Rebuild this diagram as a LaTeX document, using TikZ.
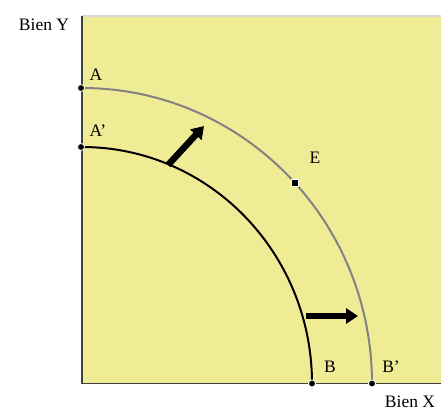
\documentclass[tikz,border=0pt]{standalone}
\usepackage{fontspec}
\setmainfont{Liberation Serif}
\usetikzlibrary{arrows.meta}
\definecolor{bg}{RGB}{240,236,150}
\definecolor{curvegrey}{RGB}{130,130,130}
\begin{document}
\begin{tikzpicture}[x=1pt,y=-1pt,
  lbl/.style={font=\fontsize{17.5}{19}\selectfont,inner sep=0pt},
  enddot/.style={circle,fill=black,draw=white,line width=0.8pt,inner sep=0pt,minimum size=7pt},
  sqdot/.style={rectangle,fill=black,draw=white,line width=0.8pt,inner sep=0pt,minimum size=6.5pt},
  bigarrow/.style={line width=6.5pt,-{Triangle[length=12pt,width=15pt]}}]
\useasboundingbox (0,0) rectangle (441,410);
\fill[bg] (82,16) rectangle (441,383.5);
\draw[line width=1.2pt,black!15] (82,16) -- (441,16);
\draw[line width=1.5pt,black!75] (82,16) -- (82,383.5) -- (441,383.5);
% curves: quarter ellipses centred at (82,383.5)
\draw[curvegrey,line width=2pt] (82,88) arc[start angle=-90,end angle=0,x radius=290,y radius=295.5];
\draw[black,line width=2pt] (82,147) arc[start angle=-90,end angle=0,x radius=230,y radius=236.5];
\node[enddot] (A) at (81,88) {};
\node[enddot] (Ap) at (81,147) {};
\node[enddot] (B) at (312,383.5) {};
\node[enddot] (Bp) at (372,383.5) {};
\node[sqdot] (E) at (295,183) {};
% arrows
\coordinate (u1) at (168,165);
\coordinate (u2) at (204,126);
\draw[bigarrow] (u1) -- (u2);
\coordinate (r1) at (306,316);
\coordinate (r2) at (358,316);
\draw[bigarrow] (r1) -- (r2);
% labels
\node[lbl,anchor=base] (ly) at (44,30) {Bien Y};
\node[lbl,anchor=base] (lA) at (96,80) {A};
\node[lbl,anchor=base] (lAp) at (98,136) {A’};
\node[lbl,anchor=base] (lE) at (315,163) {E};
\node[lbl,anchor=base] (lB) at (330,372) {B};
\node[lbl,anchor=base] (lBp) at (391,372) {B’};
\node[lbl,anchor=base] (lx) at (410,407) {Bien X};
\end{tikzpicture}
\end{document}
